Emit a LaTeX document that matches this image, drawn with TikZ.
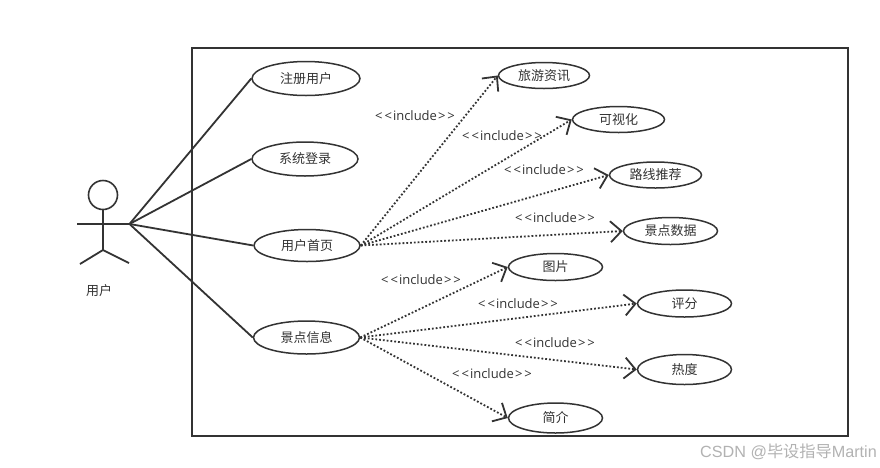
\documentclass[tikz,border=0pt]{standalone}
\usepackage{fontspec}
\setmainfont{Noto Sans CJK SC}
\newfontfamily\latinfont{Open Sans}
\newfontfamily\markfont{Liberation Sans}
\usetikzlibrary{shapes.geometric,arrows.meta}
\definecolor{umlline}{HTML}{333333}
\tikzset{
  usecase/.style={draw=umlline, line width=1.5pt, ellipse, inner sep=0pt, text=umlline, font=\fontsize{13}{15}\selectfont},
  assoc/.style={draw=umlline, line width=1.8pt},
  incl/.style={draw=umlline, line width=1.8pt, dotted, -{Straight Barb[length=11pt,width=21pt,line width=1.8pt]}},
  inclabel/.style={text=umlline, inner sep=0pt, font=\latinfont\fontsize{13}{15}\selectfont}
}
\newcommand{\incltext}{<\kern2pt<\kern1pt include\kern1pt>\kern2pt>}
\begin{document}
\begin{tikzpicture}[x=1pt, y=-1pt]
  \useasboundingbox (0, 0) rectangle (880, 467);
  \fill[white] (0, 0) rectangle (880, 467);
  \draw[umlline, line width=2pt] (192, 48) rectangle (848, 435.5);

  % actor
  \node (head) [draw=umlline, line width=1.6pt, circle, minimum size=29pt, inner sep=0pt] at (103, 195) {};
  \coordinate (hip) at (103, 250);
  \coordinate (lefthand) at (77, 224);
  \coordinate (righthand) at (129.5, 224);
  \coordinate (leftfoot) at (80, 264);
  \coordinate (rightfoot) at (129, 263);
  \draw[assoc] (head.south) -- (hip);
  \draw[assoc] (lefthand) -- (righthand);
  \draw[assoc] (leftfoot) -- (hip) -- (rightfoot);
  \node (actor) [text=umlline, font=\fontsize{13}{15}\selectfont] at (99, 291) {用户};

  % left column
  \node (register) [usecase, minimum width=108pt, minimum height=34pt] at (306, 78.5) {注册用户};
  \node (login) [usecase, minimum width=106pt, minimum height=34pt] at (305, 159) {系统登录};
  \node (home) [usecase, minimum width=106pt, minimum height=32pt] at (307, 245.5) {用户首页};
  \node (spot) [usecase, minimum width=106pt, minimum height=33pt] at (306.5, 337.5) {景点信息};

  % right column
  \node (news) [usecase, minimum width=91pt, minimum height=26pt] at (544, 75.5) {旅游资讯};
  \node (chart) [usecase, minimum width=92pt, minimum height=26pt] at (618.5, 119.5) {可视化};
  \node (route) [usecase, minimum width=92pt, minimum height=26pt] at (655.5, 175) {路线推荐};
  \node (data) [usecase, minimum width=94pt, minimum height=27pt] at (670.5, 231) {景点数据};
  \node (photo) [usecase, minimum width=94pt, minimum height=27pt] at (555.5, 267) {图片};
  \node (score) [usecase, minimum width=94pt, minimum height=27pt] at (684.5, 303.5) {评分};
  \node (heat) [usecase, minimum width=94pt, minimum height=30pt] at (684.5, 369.5) {热度};
  \node (intro) [usecase, minimum width=94pt, minimum height=30pt] at (555.5, 418) {简介};

  \draw[assoc] (righthand) -- (register.west);
  \draw[assoc] (righthand) -- (login.west);
  \draw[assoc] (righthand) -- (home.west);
  \draw[assoc] (righthand) -- (spot.west);

  \draw[incl] (home.east) -- (news.west);
  \draw[incl] (home.east) -- (chart.west);
  \draw[incl] (home.east) -- (route.west);
  \draw[incl] (home.east) -- (data.west);
  \draw[incl] (spot.east) -- (photo.west);
  \draw[incl] (spot.east) -- (score.west);
  \draw[incl] (spot.east) -- (heat.west);
  \draw[incl] (spot.east) -- (intro.west);

  \node (l1) [inclabel] at (415, 116) {\incltext};
  \node (l2) [inclabel] at (502, 136) {\incltext};
  \node (l3) [inclabel] at (544, 170) {\incltext};
  \node (l4) [inclabel] at (555, 218) {\incltext};
  \node (l5) [inclabel] at (421, 280) {\incltext};
  \node (l6) [inclabel] at (518, 304) {\incltext};
  \node (l7) [inclabel] at (555, 343) {\incltext};
  \node (l8) [inclabel] at (492, 374) {\incltext};

  \node (mark) [text=black!30, inner sep=0pt, anchor=east, font=\fontsize{16.2}{18}\selectfont] at (877, 452) {{\markfont CSDN @}毕设指导{\markfont Martin}};
\end{tikzpicture}
\end{document}
